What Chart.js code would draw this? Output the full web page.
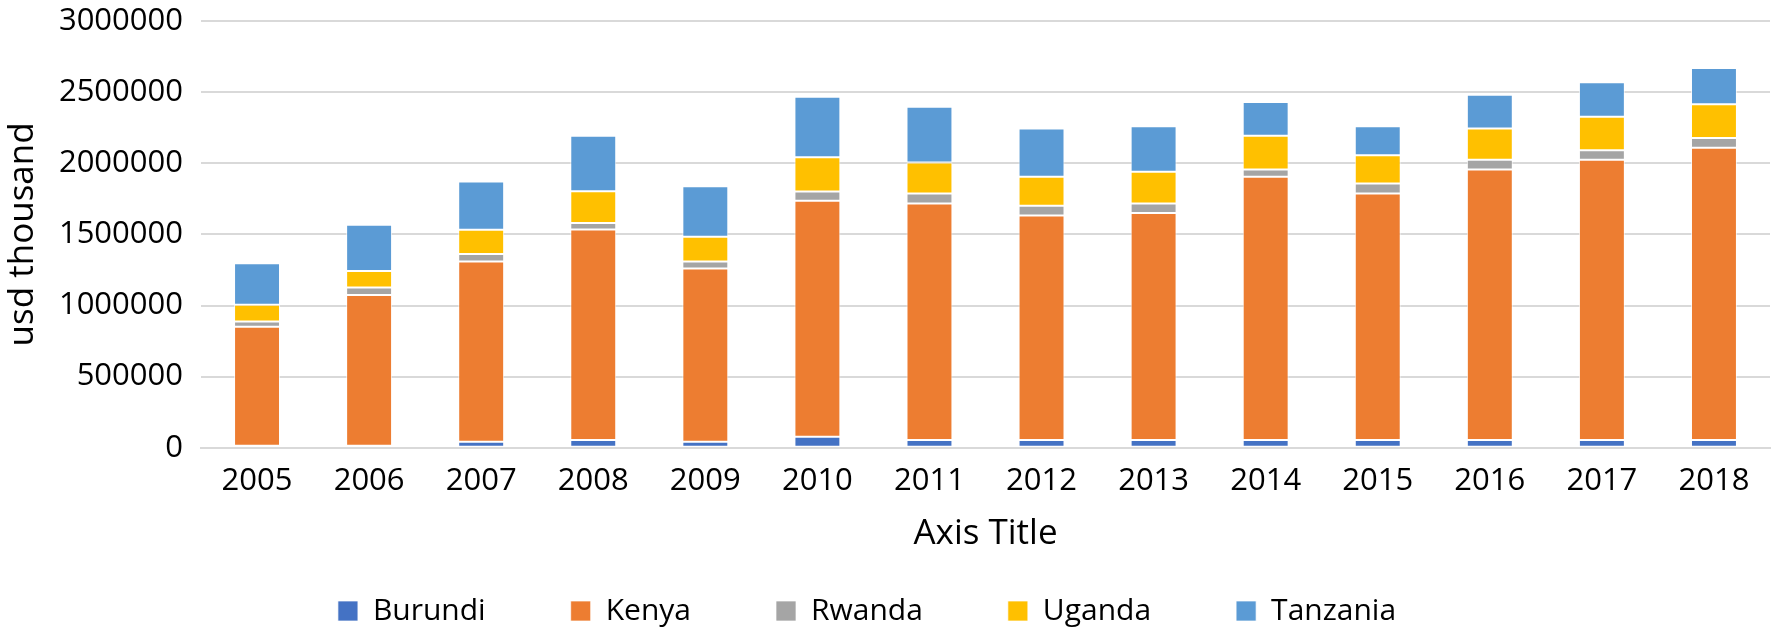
<!DOCTYPE html>
<html>
<head>
<meta charset="utf-8">
<script src="https://cdn.jsdelivr.net/npm/chart.js@4"></script>
<style>
    html, body { margin: 0; padding: 0; background: #ffffff; }
    #wrap { width: 1773px; height: 632px; }
</style>
</head>
<body>
<div id="wrap"><canvas id="myChart" width="1773" height="632"></canvas></div>
<script>
//年份
var years = ['2005', '2006', '2007', '2008', '2009', '2010', '2011', '2012', '2013', '2014', '2015', '2016', '2017', '2018'];
//各国数值 (usd thousand)
var burundi = [15000, 15000, 42000, 54000, 42000, 77000, 54000, 54000, 54000, 54000, 54000, 54000, 54000, 54000];
var kenya = [836000, 1059000, 1267000, 1480000, 1218000, 1659000, 1663000, 1579000, 1597000, 1851000, 1733000, 1902000, 1970000, 2055000];
var rwanda = [36000, 52000, 54000, 47000, 49000, 66000, 70000, 68000, 66000, 51000, 71000, 68000, 68000, 68000];
var uganda = [119000, 117000, 169000, 223000, 174000, 241000, 219000, 204000, 223000, 237000, 199000, 221000, 235000, 237000];
var tanzania = [291000, 324000, 340000, 389000, 356000, 425000, 391000, 340000, 321000, 237000, 204000, 237000, 242000, 255000];
//y轴刻度
var yTicks = [0, 500000, 1000000, 1500000, 2000000, 2500000, 3000000];

var fontFamily = "'Open Sans', sans-serif";

/**
 * 生成一个堆叠数据集
 * @param label
 * @param data
 * @param color
 */
function makeDataset(label, data, color) {
    return {
        label: label,
        data: data,
        backgroundColor: color,
        borderColor: 'rgba(255,255,255,0.7)',
        borderWidth: 1,
        borderSkipped: false,
        barPercentage: 0.5,
        categoryPercentage: 0.82
    };
}

/**
 * 显示Chart
 * @param ctx
 */
function showCharts(ctx) {
    var chart = new Chart(ctx, {
        type: 'bar',
        data: {
            labels: years,
            datasets: [
                makeDataset('Burundi', burundi, '#4472c4'),
                makeDataset('Kenya', kenya, '#ed7d31'),
                makeDataset('Rwanda', rwanda, '#a5a5a5'),
                makeDataset('Uganda', uganda, '#ffc000'),
                makeDataset('Tanzania', tanzania, '#5b9bd5')
            ]
        },
        options: {
            responsive: false,
            animation: false,
            //左边负padding让图例整体往左偏一点
            layout: {padding: {top: 21, right: 3, left: -36, bottom: -4}},
            plugins: {
                tooltip: {enabled: false},
                legend: {
                    position: 'bottom',
                    labels: {
                        color: '#000000',
                        font: {family: fontFamily, size: 30},
                        boxWidth: 20,
                        boxHeight: 20,
                        padding: 85
                    }
                }
            },
            scales: {
                x: {
                    stacked: true,
                    grid: {display: false, drawTicks: false},
                    border: {color: '#d9d9d9', width: 2},
                    ticks: {color: '#000000', font: {family: fontFamily, size: 31}, padding: 15},
                    //标题位置靠负的padding往下挪
                    title: {display: true, text: 'Axis Title', color: '#000000', font: {family: fontFamily, size: 35}, padding: {top: -2, bottom: -44}}
                },
                y: {
                    stacked: true,
                    min: 0,
                    max: 3000000,
                    afterBuildTicks: function (axis) {
                        axis.ticks = yTicks.map(function (v) { return {value: v}; });
                    },
                    afterFit: function (axis) {
                        axis.width = 237;
                        axis.paddingTop = 0;
                    },
                    grid: {color: '#d9d9d9', lineWidth: 2, drawTicks: false},
                    border: {display: false},
                    ticks: {
                        color: '#000000',
                        font: {family: fontFamily, size: 31},
                        padding: 18,
                        callback: function (value) { return String(value); }
                    },
                    title: {display: true, text: 'usd thousand', color: '#000000', font: {family: fontFamily, size: 35}, padding: {top: 38, bottom: 0}}
                }
            }
        }
    });
    return chart;
}

var ctx = document.getElementById('myChart').getContext('2d');
showCharts(ctx);
</script>
</body>
</html>
